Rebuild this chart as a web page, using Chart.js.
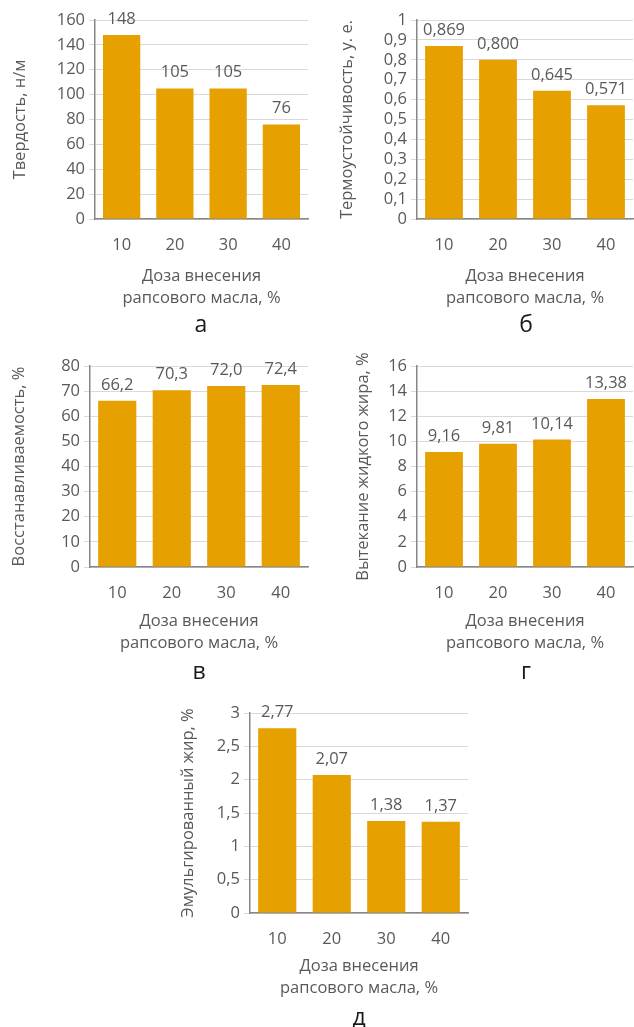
<!DOCTYPE html>
<html>
<head>
<meta charset="utf-8">
<script src="https://cdn.jsdelivr.net/npm/chart.js@4.4.1/dist/chart.umd.min.js"></script>
<style>
  body { margin: 0; background: #fff; width: 634px; height: 1027px; position: relative; overflow: hidden; font-family: 'Open Sans', sans-serif; }
  .box { position: absolute; }
  .letter { position: absolute; width: 60px; margin-left: -30px; text-align: center; font-size: 23px; color: #1a1a1a; line-height: 1; }
</style>
</head>
<body>
<div class="box" style="left:0;top:0;width:317px;height:312px"><canvas id="chA"></canvas></div>
<div class="box" style="left:317px;top:0;width:317px;height:312px"><canvas id="chB"></canvas></div>
<div class="box" style="left:0;top:345px;width:317px;height:312px"><canvas id="chV"></canvas></div>
<div class="box" style="left:317px;top:345px;width:317px;height:312px"><canvas id="chG"></canvas></div>
<div class="box" style="left:160px;top:690px;width:317px;height:312px"><canvas id="chD"></canvas></div>
<div class="letter" style="left:201px;top:312px">а</div>
<div class="letter" style="left:526px;top:312px">б</div>
<div class="letter" style="left:199px;top:659px">в</div>
<div class="letter" style="left:526px;top:659px">г</div>
<div class="letter" style="left:359px;top:1005px">д</div>
<script>
const doses = ['10', '20', '30', '40'];
const hardness = [148, 105, 105, 76];
const thermo = [0.869, 0.800, 0.645, 0.571];
const recovery = [66.2, 70.3, 72.0, 72.4];
const leakage = [9.16, 9.81, 10.14, 13.38];
const emulsified = [2.77, 2.07, 1.38, 1.37];

const xTitle = ['Доза внесения', 'рапсового масла, %'];
const GOLD = '#E6A000';
const TEXT = '#595959';
const FONT = "'Open Sans', sans-serif";

// value label above each bar, with comma decimals
const valueLabels = {
    id: 'valueLabels',
    afterDatasetsDraw(chart, args, opts) {
        const ctx = chart.ctx;
        ctx.save();
        ctx.font = '16.5px ' + FONT;
        ctx.fillStyle = TEXT;
        ctx.textAlign = 'center';
        ctx.textBaseline = 'alphabetic';
        chart.getDatasetMeta(0).data.forEach((bar, i) => {
            const v = chart.data.datasets[0].data[i];
            ctx.fillText(v.toFixed(opts.decimals).replace('.', ','), bar.x, bar.y - 11);
        });
        ctx.restore();
    }
};

function comma(v) {
    return (Math.round(v * 100) / 100).toString().replace('.', ',');
}

// box: canvas left/top, plot: axis x, right, top, bottom (page coords), titleX: y-title centre
function makeChart(id, values, yTitle, max, step, decimals, box, plot, titleX) {
    const H = 312;
    return new Chart(document.getElementById(id), {
        type: 'bar',
        data: {
            labels: doses,
            datasets: [{
                data: values,
                backgroundColor: GOLD,
                categoryPercentage: 0.7,
                barPercentage: 1,
            }],
        },
        plugins: [valueLabels],
        options: {
            responsive: true,
            maintainAspectRatio: false,
            animation: false,
            layout: {
                padding: { left: 0, top: plot.top - box.top, right: box.left + 317 - plot.right, bottom: 0 },
            },
            plugins: {
                legend: { display: false },
                tooltip: { enabled: false },
                valueLabels: { decimals: decimals },
            },
            scales: {
                x: {
                    grid: { display: false, drawTicks: false },
                    border: { display: true, color: '#868686', width: 1.5 },
                    ticks: { color: TEXT, font: { family: FONT, size: 16.5 }, padding: 16 },
                    title: {
                        display: true,
                        text: xTitle,
                        color: TEXT,
                        font: { family: FONT, size: 16.5, lineHeight: 1.3 },
                        padding: { top: 0, bottom: 3.3 },
                    },
                    afterFit(scale) { scale.height = box.top + H - plot.bottom; },
                },
                y: {
                    min: 0,
                    max: max,
                    ticks: {
                        stepSize: step,
                        autoSkip: false,
                        color: TEXT,
                        font: { family: FONT, size: 16.5 },
                        padding: 4,
                        callback: v => comma(v),
                    },
                    grid: { color: '#d9d9d9', tickLength: 6, tickColor: '#d9d9d9' },
                    border: { display: true, color: '#868686', width: 1.5 },
                    title: {
                        display: true,
                        text: yTitle,
                        color: TEXT,
                        font: { family: FONT, size: 16.5, lineHeight: 1.2 },
                        padding: { top: titleX - box.left - 9.9, bottom: 0 },
                    },
                    afterFit(scale) { scale.width = plot.axis - box.left; },
                },
            },
        },
    });
}

makeChart('chA', hardness, 'Твердость, н/м', 160, 20, 0,
    { left: 0, top: 0 }, { axis: 95, right: 308, top: 20, bottom: 219 }, 20);
makeChart('chB', thermo, 'Термоустойчивость, у. е.', 1, 0.1, 3,
    { left: 317, top: 0 }, { axis: 417, right: 633, top: 20, bottom: 219 }, 347);
makeChart('chV', recovery, 'Восстанавливаемость, %', 80, 10, 1,
    { left: 0, top: 345 }, { axis: 90, right: 308, top: 366, bottom: 567 }, 19);
makeChart('chG', leakage, 'Вытекание жидкого жира, %', 16, 2, 2,
    { left: 317, top: 345 }, { axis: 417, right: 633, top: 366, bottom: 567 }, 363);
makeChart('chD', emulsified, 'Эмульгированный жир, %', 3, 0.5, 2,
    { left: 160, top: 690 }, { axis: 250, right: 468, top: 713, bottom: 913 }, 188);
</script>
</body>
</html>
